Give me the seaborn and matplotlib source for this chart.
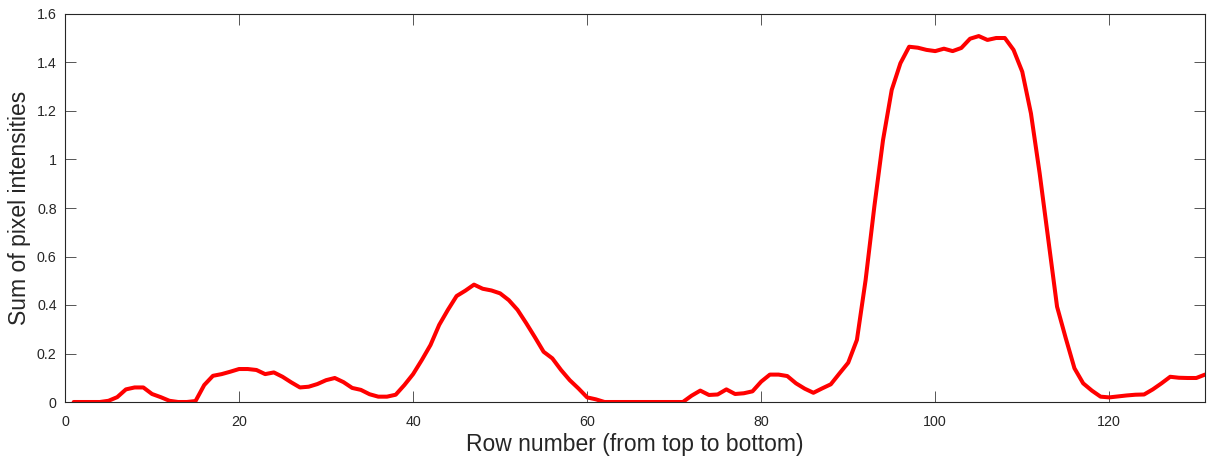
import matplotlib
matplotlib.use("Agg")
import matplotlib.pyplot as plt
from matplotlib.ticker import FuncFormatter, FixedLocator
import seaborn as sns
import pandas as pd

rows = list(range(1, 132))
intensity = [
    0.0, 0.0, 0.0, 0.0, 0.005, 0.02, 0.052, 0.06, 0.06, 0.033,
    0.02, 0.005, 0.0, 0.0, 0.004, 0.07, 0.108, 0.115, 0.125, 0.136,
    0.136, 0.132, 0.115, 0.122, 0.104, 0.081, 0.06, 0.063, 0.074, 0.09,
    0.099, 0.082, 0.058, 0.05, 0.032, 0.022, 0.022, 0.03, 0.07, 0.115,
    0.173, 0.235, 0.318, 0.38, 0.437, 0.459, 0.484, 0.467, 0.46, 0.448,
    0.42, 0.38, 0.325, 0.267, 0.207, 0.18, 0.132, 0.09, 0.056, 0.019,
    0.011, 0.0, 0.0, 0.0, 0.0, 0.0, 0.0, 0.0, 0.0, 0.0,
    0.0, 0.026, 0.047, 0.029, 0.031, 0.052, 0.033, 0.036, 0.044, 0.084,
    0.113, 0.113, 0.107, 0.077, 0.055, 0.038, 0.056, 0.073, 0.118, 0.162,
    0.256, 0.503, 0.805, 1.08, 1.287, 1.397, 1.465, 1.461, 1.452, 1.447,
    1.457, 1.447, 1.46, 1.498, 1.509, 1.493, 1.501, 1.501, 1.452, 1.362,
    1.19, 0.943, 0.668, 0.393, 0.263, 0.139, 0.077, 0.047, 0.022, 0.019,
    0.023, 0.027, 0.03, 0.031, 0.052, 0.077, 0.104, 0.1, 0.099, 0.099,
    0.113,
]
x_ticks = [0, 20, 40, 60, 80, 100, 120]
y_ticks = [0, 0.2, 0.4, 0.6, 0.8, 1.0, 1.2, 1.4, 1.6]
x_label = "Row number (from top to bottom)"
y_label = "Sum of pixel intensities"

df = pd.DataFrame({"row": rows, "val": intensity})

sns.set_style("white")
plt.rcParams["font.family"] = ["Liberation Sans", "DejaVu Sans"]

W, H = 1207, 461
fig = plt.figure(figsize=(W / 100, H / 100), dpi=100)
ax = fig.add_axes([65 / W, (H - 402) / H, 1140 / W, 388 / H])

sns.lineplot(data=df, x="row", y="val", color="#ff0000", linewidth=2.9, ax=ax)

ax.set_xlim(0, 131)
ax.set_ylim(0, 1.6)
ax.xaxis.set_major_locator(FixedLocator(x_ticks))
ax.yaxis.set_major_locator(FixedLocator(y_ticks))
fmt = FuncFormatter(lambda v, p: "%g" % round(v, 3))
ax.xaxis.set_major_formatter(fmt)
ax.yaxis.set_major_formatter(fmt)

axis_col = "#262626"
for s in ax.spines.values():
    s.set_visible(True)
    s.set_color(axis_col)
    s.set_linewidth(0.8)

ax.tick_params(axis="both", which="major", direction="in", length=8.2, width=0.7,
               color="#555555", labelcolor=axis_col, labelsize=10.3,
               top=True, right=True, bottom=True, left=True)
ax.tick_params(axis="x", pad=9)
ax.tick_params(axis="y", pad=6)

ax.set_xlabel(x_label, fontsize=16.5, color=axis_col, labelpad=3)
ax.set_ylabel(y_label, fontsize=16.5, color=axis_col, labelpad=4)

fig.savefig("out.png", dpi=100, facecolor="white")
